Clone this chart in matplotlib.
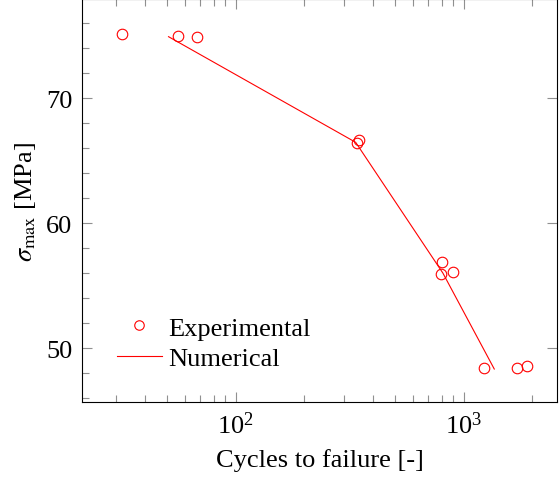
import numpy as np
import matplotlib
matplotlib.use('Agg')
import matplotlib.pyplot as plt
from matplotlib.ticker import MultipleLocator, LogLocator, NullFormatter

plt.rcParams['font.family'] = ['Liberation Serif', 'DejaVu Serif']
plt.rcParams['mathtext.fontset'] = 'stix'

# fatigue tests: cycles to failure vs max stress
exp_cycles = [31.9, 55.8, 67.9, 339.5, 348, 801, 793, 900, 1231, 1718, 1901]
exp_stress = [75.14, 74.98, 74.94, 66.42, 66.64, 56.86, 55.94, 56.06, 48.38, 48.38, 48.58]

# model prediction
num_cycles = [50.8, 336, 811, 1362]
num_stress = [74.94, 66.48, 56.0, 48.32]

fs = 19

fig = plt.figure(figsize=(5.6, 4.81), dpi=100)
ax = fig.add_axes([0.1464, 0.1622, 0.8488, 0.8368])

ax.plot(exp_cycles, exp_stress, linestyle='None', marker='o', markersize=7.6,
        markerfacecolor='none', markeredgecolor='red', markeredgewidth=0.8,
        label='Experimental')
ax.plot(num_cycles, num_stress, color='red', linewidth=0.8, label='Numerical')

ax.set_xscale('log')
ax.set_xlim(21.2, 2574)
ax.set_ylim(45.68, 77.92)
ax.set_yticks([50, 60, 70])
ax.yaxis.set_minor_locator(MultipleLocator(2))
ax.xaxis.set_minor_locator(LogLocator(base=10, subs=np.arange(2, 10)))
ax.xaxis.set_minor_formatter(NullFormatter())

for s in ax.spines.values():
    s.set_linewidth(0.8)
    s.set_color('black')

ax.tick_params(which='both', direction='in', top=True, right=True,
               color='#909090', width=0.8, labelsize=fs)
ax.tick_params(which='major', length=7, pad=7)
ax.tick_params(which='minor', length=4.8, right=False)

ax.set_xlabel('Cycles to failure [-]', fontsize=fs, labelpad=7)
ax.set_ylabel(r'$\sigma_{\max}$ [MPa]', fontsize=fs, labelpad=6)

ax.legend(loc='upper left', bbox_to_anchor=(0.0736, 0.213), frameon=False,
          fontsize=fs, handlelength=1.7, handletextpad=0.25,
          labelspacing=0.25, borderpad=0, borderaxespad=0, markerscale=0.9)

fig.savefig('out.png', dpi=100)
